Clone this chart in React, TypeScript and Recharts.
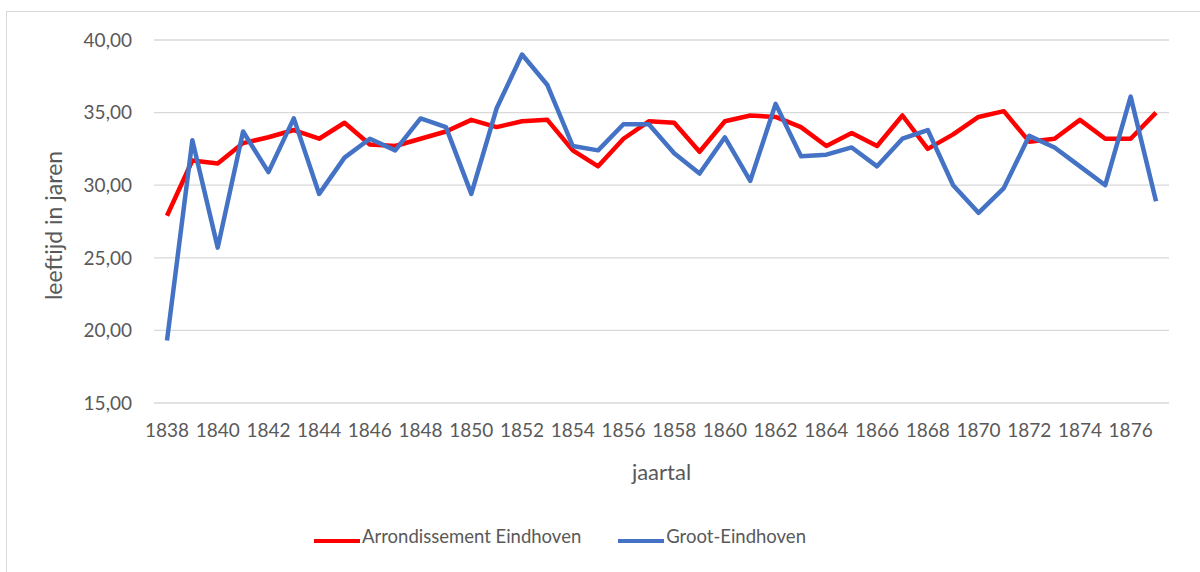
import { CartesianGrid, Line, LineChart, XAxis, YAxis } from "recharts";

const years = [
  "1838", "1839", "1840", "1841", "1842", "1843", "1844", "1845", "1846", "1847",
  "1848", "1849", "1850", "1851", "1852", "1853", "1854", "1855", "1856", "1857",
  "1858", "1859", "1860", "1861", "1862", "1863", "1864", "1865", "1866", "1867",
  "1868", "1869", "1870", "1871", "1872", "1873", "1874", "1875", "1876", "1877",
];

const arrondissement = [
  27.9, 31.7, 31.5, 32.9, 33.3, 33.8, 33.2, 34.3, 32.8, 32.7,
  33.2, 33.7, 34.5, 34.0, 34.4, 34.5, 32.4, 31.3, 33.2, 34.4,
  34.3, 32.3, 34.4, 34.8, 34.7, 34.0, 32.7, 33.6, 32.7, 34.8,
  32.5, 33.5, 34.7, 35.1, 33.0, 33.2, 34.5, 33.2, 33.2, 35.0,
];

const grootEindhoven = [
  19.3, 33.1, 25.7, 33.7, 30.9, 34.6, 29.4, 31.9, 33.2, 32.4,
  34.6, 34.0, 29.4, 35.3, 39.0, 36.9, 32.7, 32.4, 34.2, 34.2,
  32.2, 30.8, 33.3, 30.3, 35.6, 32.0, 32.1, 32.6, 31.3, 33.2,
  33.8, 30.0, 28.1, 29.8, 33.4, 32.6, 31.3, 30.0, 36.1, 28.9,
];

const yTicks = [15, 20, 25, 30, 35, 40];

const series = [
  { key: "arr", name: "Arrondissement Eindhoven", color: "#ff0000" },
  { key: "groot", name: "Groot-Eindhoven", color: "#4472c4" },
];

const data = years.map((year, i) => ({
  year,
  arr: arrondissement[i],
  groot: grootEindhoven[i],
}));

const FONT = "Lato, 'Open Sans', sans-serif";
const TEXT = "#595959";

const formatTick = (v: number) => v.toFixed(2).replace(".", ",");

export default function App() {
  return (
    <div style={{ position: "absolute", left: 0, top: 0, width: 1200, height: 572, background: "#fff", overflow: "hidden", fontFamily: FONT }}>
      <div
        style={{
          position: "absolute",
          left: 6,
          top: 11,
          width: 1300,
          height: 700,
          borderLeft: "1.5px solid #d9d9d9",
          borderTop: "1.5px solid #d9d9d9",
        }}
      />
      <LineChart
        width={1200}
        height={572}
        data={data}
        margin={{ top: 40, right: 31, bottom: 139, left: 0 }}
        style={{ position: "absolute", left: 0, top: 0 }}
      >
        <CartesianGrid vertical={false} stroke="#d9d9d9" strokeWidth={1.3} />
        <XAxis
          dataKey="year"
          interval={1}
          height={30}
          padding={{ left: 13, right: 13 }}
          axisLine={false}
          tickLine={false}
          tickMargin={15}
          tick={{ fontSize: 19, fill: TEXT, fontFamily: FONT }}
          label={{
            content: ({ viewBox }: any) => (
              <text
                x={viewBox.x + viewBox.width / 2}
                y={480}
                textAnchor="middle"
                fontSize={22}
                fill={TEXT}
                fontFamily={FONT}
              >
                jaartal
              </text>
            ),
          }}
        />
        <YAxis
          width={154}
          domain={[15, 40]}
          ticks={yTicks}
          axisLine={false}
          tickLine={false}
          tickMargin={16}
          tickFormatter={formatTick}
          tick={{ fontSize: 19, fill: TEXT, fontFamily: FONT }}
          label={{
            content: ({ viewBox }: any) => {
              const cy = viewBox.y + viewBox.height / 2 + 4;
              return (
                <text
                  transform={`translate(62, ${cy}) rotate(-90)`}
                  textAnchor="middle"
                  fontSize={23}
                  fill={TEXT}
                  fontFamily={FONT}
                >
                  leeftijd in jaren
                </text>
              );
            },
          }}
        />
        {series.map((s) => (
          <Line
            key={s.key}
            dataKey={s.key}
            name={s.name}
            stroke={s.color}
            strokeWidth={4.5}
            strokeLinejoin="round"
            dot={false}
            activeDot={false}
            isAnimationActive={false}
          />
        ))}
      </LineChart>
      <div
        style={{
          position: "absolute",
          left: 0,
          width: 1200,
          top: 525,
          display: "flex",
          justifyContent: "center",
          paddingRight: 80,
          boxSizing: "border-box",
          gap: 37,
          fontSize: 18.5,
          color: TEXT,
        }}
      >
        {series.map((s) => (
          <div key={s.key} style={{ display: "flex", alignItems: "flex-end" }}>
            <span style={{ display: "inline-block", width: 46, height: 4.5, background: s.color, marginBottom: 4, marginRight: 2 }} />
            <span>{s.name}</span>
          </div>
        ))}
      </div>
    </div>
  );
}
